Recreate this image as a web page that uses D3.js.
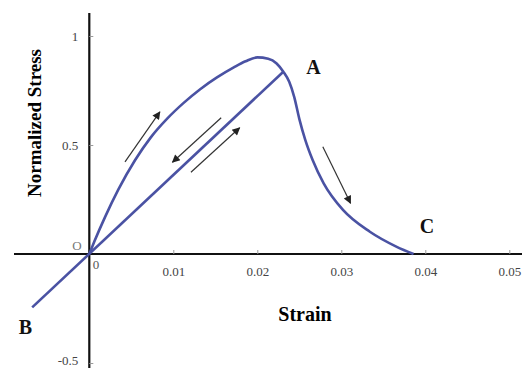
<!DOCTYPE html>
<html>
<head>
<meta charset="utf-8">
<script src="https://cdn.jsdelivr.net/npm/d3@7"></script>
<style>
  body { margin: 0; background: #fff; }
  svg { display: block; }
  .tick text { font-family: "Liberation Serif", "Times New Roman", serif; font-size: 13px; fill: #444; }
  .tick line { stroke: #999; }
</style>
</head>
<body>
<div id="chart"></div>
<script>
// loading curve O -> peak -> A -> C
var strain = [0, 0.0006, 0.00187, 0.00345, 0.00544, 0.0073, 0.0093, 0.0112, 0.0132, 0.0152, 0.0172,
  0.0186, 0.0200, 0.0213, 0.0223, 0.0231, 0.0238, 0.0244, 0.0250, 0.0257, 0.0266, 0.0279,
  0.0302, 0.0334, 0.0366, 0.0386];
var stress = [0, 0.057, 0.169, 0.295, 0.430, 0.534, 0.622, 0.692, 0.756, 0.810, 0.856,
  0.884, 0.902, 0.896, 0.874, 0.836, 0.79, 0.72, 0.62, 0.525, 0.43, 0.324,
  0.202, 0.102, 0.033, 0];
// unloading / reloading line B - O - A
var lineStrain = [-0.0068, 0.0231];
var lineStress = [-0.245, 0.836];
var xTicks = [0.01, 0.02, 0.03, 0.04, 0.05];
var yTicks = [1, 0.5, -0.5];
// arrows [x0, y0, x1, y1]
var arrows = [
  [0.00425, 0.423, 0.0084, 0.652],
  [0.0157, 0.625, 0.0099, 0.421],
  [0.0121, 0.375, 0.0179, 0.579],
  [0.0278, 0.492, 0.0311, 0.233]
];
var pointLabels = [
  { t: 'A', sx: 0.0267, sy: 0.86 },
  { t: 'C', sx: 0.0402, sy: 0.13 },
  { t: 'B', sx: -0.0076, sy: -0.335 }
];

var width = 522, height = 368;
var svg = d3.select('#chart').append('svg')
  .attr('width', width)
  .attr('height', height);

var x = d3.scaleLinear().domain([0, 0.05]).range([89.3, 509.3]);
var y = d3.scaleLinear().domain([-0.5, 1]).range([363, 36]);

var defs = svg.append('defs');
defs.append('marker')
  .attr('id', 'head')
  .attr('viewBox', '0 0 10 10')
  .attr('refX', 9).attr('refY', 5)
  .attr('markerWidth', 11).attr('markerHeight', 8)
  .attr('markerUnits', 'userSpaceOnUse')
  .attr('orient', 'auto')
  .append('path')
  .attr('d', 'M0,0 L10,5 L0,10 Z')
  .attr('fill', '#222');

// axes lines
svg.append('line')
  .attr('x1', 14).attr('x2', 522)
  .attr('y1', y(0)).attr('y2', y(0))
  .attr('stroke', '#111').attr('stroke-width', 2.2);
svg.append('line')
  .attr('x1', x(0)).attr('x2', x(0))
  .attr('y1', 13).attr('y2', 368)
  .attr('stroke', '#111').attr('stroke-width', 2.2);

var gx = svg.append('g')
  .attr('transform', 'translate(0,' + y(0) + ')')
  .call(d3.axisBottom(x).tickValues(xTicks).tickSize(-4).tickPadding(13)
    .tickFormat(function (d) { return String(+d.toFixed(2)); }));
gx.select('.domain').remove();

var gy = svg.append('g')
  .attr('transform', 'translate(' + x(0) + ',0)')
  .call(d3.axisLeft(y).tickValues(yTicks).tickSize(-4).tickPadding(11)
    .tickFormat(function (d) { return String(d); }));
gy.select('.domain').remove();
// keep the bottom label inside the picture
gy.selectAll('.tick').filter(function (d) { return d < 0; })
  .select('text').attr('dy', '0.1em');

// curves
var line = d3.line()
  .x(function (d) { return x(d[0]); })
  .y(function (d) { return y(d[1]); })
  .curve(d3.curveMonotoneX);

svg.append('path')
  .datum(strain.map(function (s, i) { return [s, stress[i]]; }))
  .attr('d', line)
  .attr('fill', 'none')
  .attr('stroke', '#4a52a3')
  .attr('stroke-width', 2.6);

svg.append('path')
  .datum(lineStrain.map(function (s, i) { return [s, lineStress[i]]; }))
  .attr('d', d3.line().x(function (d) { return x(d[0]); }).y(function (d) { return y(d[1]); }))
  .attr('fill', 'none')
  .attr('stroke', '#4a52a3')
  .attr('stroke-width', 2.6);

// arrows
svg.selectAll('.arrow')
  .data(arrows)
  .enter().append('line')
  .attr('class', 'arrow')
  .attr('x1', function (d) { return x(d[0]); })
  .attr('y1', function (d) { return y(d[1]); })
  .attr('x2', function (d) { return x(d[2]); })
  .attr('y2', function (d) { return y(d[3]); })
  .attr('stroke', '#333')
  .attr('stroke-width', 1.2)
  .attr('marker-end', 'url(#head)');

// labels
svg.selectAll('.plabel')
  .data(pointLabels)
  .enter().append('text')
  .attr('class', 'plabel')
  .attr('x', function (d) { return x(d.sx); })
  .attr('y', function (d) { return y(d.sy); })
  .attr('text-anchor', 'middle')
  .attr('dy', '0.35em')
  .style('font-family', '"Liberation Serif", serif')
  .style('font-weight', 'bold')
  .style('font-size', '20px')
  .style('fill', '#111')
  .text(function (d) { return d.t; });

svg.append('text')
  .attr('x', 77).attr('y', y(0) - 9)
  .attr('text-anchor', 'middle').attr('dy', '0.35em')
  .style('font-family', '"Liberation Serif", serif')
  .style('font-size', '13px').style('fill', '#777')
  .text('O');
svg.append('text')
  .attr('x', 96).attr('y', y(0) + 10)
  .attr('text-anchor', 'middle').attr('dy', '0.35em')
  .style('font-family', '"Liberation Serif", serif')
  .style('font-size', '13px').style('fill', '#555')
  .text('0');

svg.append('text')
  .attr('x', 305).attr('y', 314)
  .attr('text-anchor', 'middle').attr('dy', '0.35em')
  .style('font-family', '"Liberation Serif", serif')
  .style('font-weight', 'bold').style('font-size', '20px')
  .text('Strain');

svg.append('text')
  .attr('transform', 'translate(34,123) rotate(-90)')
  .attr('text-anchor', 'middle').attr('dy', '0.35em')
  .style('font-family', '"Liberation Serif", serif')
  .style('font-weight', 'bold').style('font-size', '19px')
  .text('Normalized Stress');
</script>
</body>
</html>
